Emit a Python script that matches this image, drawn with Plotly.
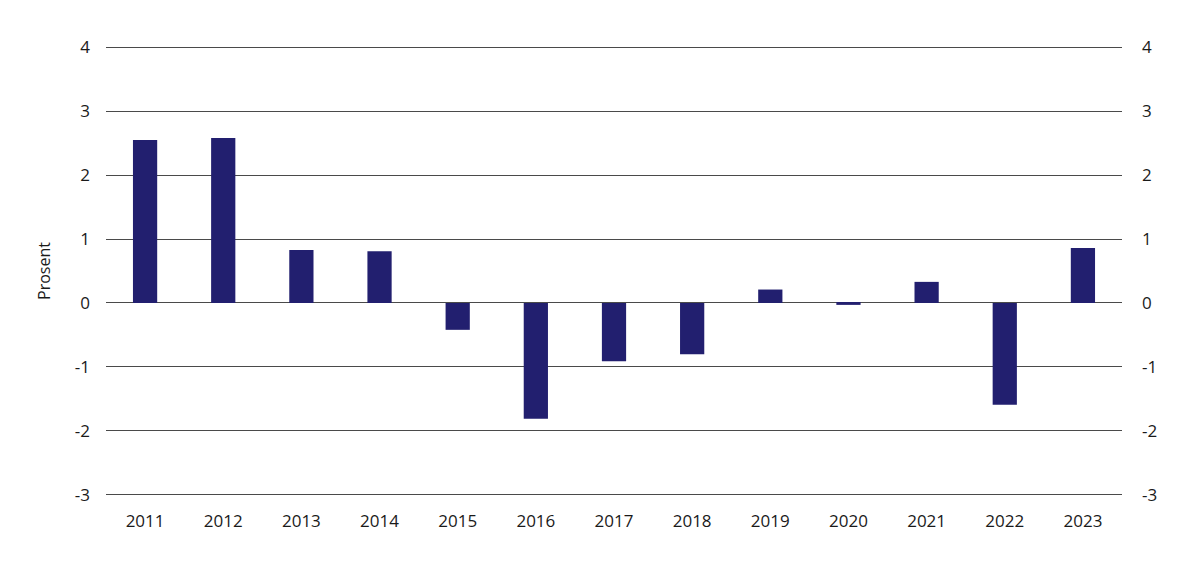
import plotly.graph_objects as go

years = ["2011", "2012", "2013", "2014", "2015", "2016", "2017", "2018", "2019", "2020", "2021", "2022", "2023"]
values = [2.55, 2.58, 0.83, 0.81, -0.42, -1.81, -0.91, -0.80, 0.21, -0.03, 0.33, -1.59, 0.86]
y_ticks = [-3, -2, -1, 0, 1, 2, 3, 4]
y_ticktext = ["-3", "-2", "-1", "0", "1", "2", "3", "4"]
y_title = "Prosent"

bar_color = "#221F6F"
grid_color = "#4a4a4a"
font_family = "Open Sans, Lato, sans-serif"
y_range = [-3.05, 4.05]

fig = go.Figure()
fig.add_trace(go.Bar(x=years, y=values, marker=dict(color=bar_color, line=dict(width=0)),
                     hoverinfo="x+y"))
fig.add_trace(go.Scatter(x=years, y=values, mode="none", yaxis="y2", showlegend=False,
                         hoverinfo="skip"))

fig.update_layout(
    width=1198, height=568,
    margin=dict(l=98, r=84, t=35.8, b=77.8, autoexpand=False),
    paper_bgcolor="white", plot_bgcolor="white",
    showlegend=False,
    bargap=0.69,
    font=dict(family=font_family, size=17, color="#1a1a1a"),
    xaxis=dict(type="category", showgrid=False, showline=False, zeroline=False,
               ticks="", ticklabelstandoff=11, tickfont=dict(size=17), automargin=False),
    yaxis=dict(range=y_range, tickvals=y_ticks, ticktext=y_ticktext, showgrid=True,
               gridcolor=grid_color, gridwidth=1, zeroline=True, zerolinecolor=grid_color,
               zerolinewidth=1, showline=False, ticks="", ticklabelstandoff=15,
               automargin=False,
               title=dict(text=y_title, standoff=20, font=dict(size=16))),
    yaxis2=dict(range=y_range, tickvals=y_ticks, ticktext=y_ticktext, overlaying="y",
                side="right", showgrid=False, zeroline=False, showline=False, ticks="",
                ticklabelstandoff=19, automargin=False),
)

fig.write_html("out.html")
